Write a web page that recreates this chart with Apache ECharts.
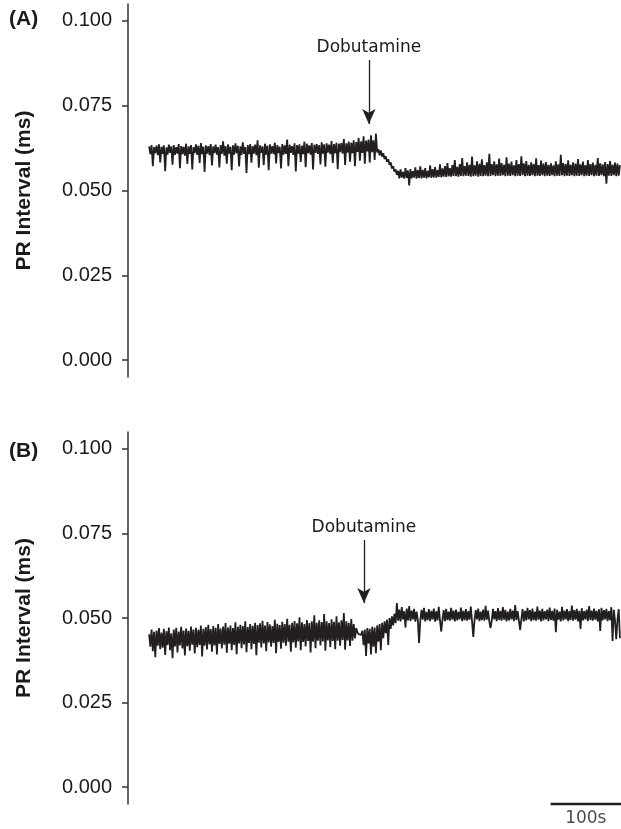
<!DOCTYPE html>
<html><head><meta charset="utf-8">
<script src="https://cdn.jsdelivr.net/npm/echarts@6/dist/echarts.min.js"></script>
<style>html,body{margin:0;padding:0;background:#fff}#c{width:621px;height:829px}</style>
</head><body><div id="c"></div>
<script>
// y-axis tick labels (PR interval, ms)
const yTicks = [0, 0.025, 0.05, 0.075, 0.1];
// sampling of the traces (seconds)
const sampleStart = 30;
const sampleStep = 1.75;
// Panel A trace (PR interval, ms)
const traceA = [
0.0630,0.0607,0.0634,0.0572,0.0628,0.0610,0.0632,0.0604,0.0636,0.0583,
0.0629,0.0608,0.0633,0.0557,0.0627,0.0606,0.0635,0.0611,0.0630,0.0576,
0.0634,0.0605,0.0628,0.0609,0.0637,0.0566,0.0631,0.0607,0.0629,0.0603,
0.0638,0.0578,0.0630,0.0608,0.0634,0.0562,0.0628,0.0610,0.0636,0.0605,
0.0632,0.0581,0.0640,0.0607,0.0629,0.0555,0.0633,0.0609,0.0631,0.0604,
0.0637,0.0574,0.0630,0.0610,0.0635,0.0606,0.0628,0.0568,0.0634,0.0608,
0.0645,0.0603,0.0631,0.0579,0.0636,0.0609,0.0629,0.0560,0.0633,0.0606,
0.0639,0.0610,0.0632,0.0571,0.0630,0.0605,0.0642,0.0608,0.0628,0.0552,
0.0634,0.0607,0.0637,0.0582,0.0631,0.0609,0.0635,0.0604,0.0648,0.0567,
0.0633,0.0611,0.0630,0.0575,0.0638,0.0606,0.0632,0.0560,0.0636,0.0609,
0.0631,0.0607,0.0641,0.0580,0.0634,0.0610,0.0629,0.0565,0.0637,0.0606,
0.0633,0.0608,0.0650,0.0572,0.0635,0.0611,0.0631,0.0605,0.0639,0.0556,
0.0634,0.0609,0.0636,0.0584,0.0632,0.0607,0.0644,0.0569,0.0638,0.0610,
0.0633,0.0606,0.0640,0.0562,0.0635,0.0611,0.0637,0.0608,0.0634,0.0577,
0.0642,0.0609,0.0636,0.0570,0.0639,0.0612,0.0635,0.0607,0.0646,0.0581,
0.0637,0.0610,0.0641,0.0563,0.0638,0.0613,0.0640,0.0609,0.0652,0.0575,
0.0639,0.0612,0.0644,0.0585,0.0641,0.0610,0.0648,0.0572,0.0643,0.0614,
0.0655,0.0588,0.0645,0.0611,0.0660,0.0579,0.0647,0.0615,0.0650,0.0583,
0.0663,0.0613,0.0648,0.0590,0.0668,0.0612,
0.0622,0.0604,0.0618,0.0600,0.0610,0.0593,0.0601,0.0585,0.0592,0.0576,0.0583,0.0565,0.0572,0.0556,0.0562,0.0546,
0.0558,0.0536,0.0562,0.0538,0.0555,0.0535,0.0566,0.0537,0.0559,0.0515,
0.0563,0.0536,0.0557,0.0538,0.0568,0.0535,0.0560,0.0537,0.0571,0.0536,
0.0561,0.0538,0.0566,0.0536,0.0558,0.0539,0.0574,0.0537,0.0563,0.0539,
0.0569,0.0538,0.0560,0.0540,0.0577,0.0539,0.0565,0.0541,0.0572,0.0540,
0.0581,0.0542,0.0566,0.0541,0.0575,0.0543,0.0590,0.0542,0.0570,0.0541,
0.0578,0.0543,0.0596,0.0542,0.0572,0.0544,0.0583,0.0543,0.0576,0.0541,
0.0600,0.0542,0.0574,0.0544,0.0586,0.0541,0.0579,0.0543,0.0592,0.0542,
0.0575,0.0544,0.0583,0.0542,0.0608,0.0543,0.0578,0.0545,0.0586,0.0542,
0.0577,0.0544,0.0594,0.0543,0.0581,0.0545,0.0576,0.0542,0.0598,0.0544,
0.0579,0.0543,0.0585,0.0545,0.0574,0.0542,0.0590,0.0544,0.0578,0.0543,
0.0601,0.0545,0.0580,0.0542,0.0587,0.0544,0.0576,0.0543,0.0583,0.0545,
0.0578,0.0542,0.0595,0.0544,0.0575,0.0543,0.0588,0.0545,0.0579,0.0542,
0.0584,0.0544,0.0576,0.0543,0.0580,0.0545,0.0574,0.0542,0.0586,0.0544,
0.0577,0.0543,0.0605,0.0545,0.0581,0.0542,0.0578,0.0544,0.0589,0.0543,
0.0576,0.0545,0.0583,0.0542,0.0579,0.0544,0.0593,0.0543,0.0577,0.0545,
0.0585,0.0542,0.0575,0.0544,0.0590,0.0543,0.0578,0.0545,0.0582,0.0542,
0.0576,0.0544,0.0596,0.0543,0.0580,0.0545,0.0577,0.0542,0.0584,0.0520,
0.0578,0.0544,0.0587,0.0543,0.0576,0.0545,0.0582,0.0542,0.0579,0.0544,0.0575
];
// Panel B trace (PR interval, ms)
const traceB = [
0.0452,0.0415,0.0466,0.0402,0.0459,0.0384,0.0463,0.0418,0.0470,0.0408,
0.0457,0.0412,0.0468,0.0391,0.0461,0.0420,0.0472,0.0405,0.0455,0.0381,
0.0466,0.0416,0.0471,0.0398,0.0460,0.0419,0.0474,0.0410,0.0463,0.0389,
0.0469,0.0417,0.0462,0.0403,0.0475,0.0421,0.0466,0.0395,0.0471,0.0414,
0.0465,0.0420,0.0478,0.0386,0.0468,0.0418,0.0473,0.0407,0.0480,0.0422,
0.0467,0.0400,0.0476,0.0419,0.0471,0.0392,0.0482,0.0423,0.0469,0.0410,
0.0475,0.0421,0.0485,0.0397,0.0472,0.0424,0.0478,0.0405,0.0470,0.0420,
0.0487,0.0393,0.0474,0.0425,0.0480,0.0411,0.0476,0.0422,0.0490,0.0399,
0.0473,0.0426,0.0482,0.0408,0.0477,0.0423,0.0486,0.0390,0.0479,0.0427,
0.0484,0.0413,0.0492,0.0425,0.0478,0.0402,0.0488,0.0428,0.0481,0.0415,
0.0476,0.0426,0.0495,0.0396,0.0483,0.0429,0.0479,0.0409,0.0489,0.0427,
0.0482,0.0418,0.0498,0.0430,0.0480,0.0400,0.0486,0.0428,0.0491,0.0412,
0.0484,0.0431,0.0502,0.0405,0.0487,0.0429,0.0482,0.0416,0.0494,0.0432,
0.0485,0.0398,0.0490,0.0430,0.0508,0.0411,0.0486,0.0433,0.0493,0.0419,
0.0488,0.0431,0.0512,0.0403,0.0490,0.0434,0.0485,0.0414,0.0496,0.0432,
0.0489,0.0408,0.0505,0.0433,0.0487,0.0418,0.0493,0.0435,0.0515,0.0406,
0.0490,0.0434,0.0486,0.0417,0.0497,0.0433,0.0482,0.0440,0.0470,
0.0458,0.0452,0.0456,0.0450,0.0462,0.0420,0.0466,0.0388,0.0470,0.0425,
0.0468,0.0392,0.0474,0.0415,0.0472,0.0396,0.0478,0.0430,0.0482,0.0405,
0.0486,0.0440,0.0490,0.0455,0.0495,0.0420,0.0500,0.0468,0.0505,0.0478,
0.0512,0.0485,0.0544,0.0492,
0.0525,0.0490,0.0532,0.0496,0.0520,0.0472,0.0528,0.0493,0.0535,0.0491,
0.0522,0.0496,0.0527,0.0489,0.0519,0.0494,0.0426,0.0492,0.0524,0.0495,
0.0530,0.0490,0.0518,0.0494,0.0526,0.0491,0.0521,0.0496,0.0528,0.0489,
0.0520,0.0493,0.0533,0.0492,0.0460,0.0495,0.0523,0.0491,0.0527,0.0494,
0.0519,0.0492,0.0530,0.0495,0.0522,0.0490,0.0525,0.0493,0.0518,0.0496,
0.0531,0.0491,0.0521,0.0494,0.0526,0.0492,0.0520,0.0495,0.0534,0.0490,
0.0444,0.0493,0.0523,0.0496,0.0528,0.0491,0.0519,0.0494,0.0525,0.0492,
0.0536,0.0495,0.0522,0.0490,0.0470,0.0493,0.0527,0.0496,0.0520,0.0491,
0.0529,0.0494,0.0521,0.0492,0.0532,0.0495,0.0524,0.0490,0.0519,0.0493,
0.0527,0.0496,0.0522,0.0491,0.0538,0.0494,0.0520,0.0492,0.0465,0.0495,
0.0526,0.0490,0.0521,0.0493,0.0530,0.0496,0.0523,0.0491,0.0528,0.0494,
0.0519,0.0492,0.0534,0.0495,0.0522,0.0490,0.0527,0.0493,0.0520,0.0496,
0.0525,0.0491,0.0531,0.0494,0.0521,0.0492,0.0528,0.0458,0.0524,0.0495,
0.0519,0.0490,0.0533,0.0493,0.0522,0.0496,0.0526,0.0491,0.0520,0.0494,
0.0537,0.0492,0.0523,0.0495,0.0527,0.0490,0.0521,0.0468,0.0529,0.0493,
0.0520,0.0496,0.0525,0.0491,0.0535,0.0494,0.0522,0.0492,0.0528,0.0495,
0.0521,0.0490,0.0526,0.0462,0.0530,0.0493,0.0523,0.0496,0.0527,0.0491,
0.0520,0.0494,0.0532,0.0432,0.0524,0.0492,0.0437,0.0495,0.0526,0.0440
];
// Dobutamine administration time (s) per panel
const dobutamineTime = [342, 335];
// Scale bar (s)
const scaleBar = [600, 700];
const scaleLabel = '100s';

const ink = '#231f20';
const toPairs = arr => arr.map((v, i) => [sampleStart + i * sampleStep, v]);

const chart = echarts.init(document.getElementById('c'), null, {renderer: 'canvas'});

function yAxisCfg(gridIndex) {
  return {
    gridIndex, type: 'value', min: -0.005, max: 0.105,
    name: 'PR Interval (ms)', nameLocation: 'middle', nameGap: 93, nameRotate: 90,
    nameTextStyle: {fontFamily: 'Liberation Sans', fontWeight: 'bold', fontSize: 21, color: '#1a1a1a'},
    axisLine: {show: true, lineStyle: {color: '#333', width: 1.5}},
    axisTick: {show: true, length: 6, customValues: yTicks, lineStyle: {color: '#333', width: 1.5}},
    axisLabel: {customValues: yTicks, margin: 16, fontFamily: 'Liberation Sans', fontSize: 20, color: '#1a1a1a',
      formatter: v => v.toFixed(3)},
    splitLine: {show: false}
  };
}
function xAxisCfg(gridIndex) {
  return {gridIndex, type: 'value', min: 0, max: 700, show: false};
}
function arrowMark(t, yFrom, yTo) {
  return {
    silent: true, animation: false,
    symbol: ['none', 'arrow'], symbolSize: [10, 15],
    lineStyle: {color: ink, width: 1.3, type: 'solid'},
    label: {show: true, position: 'start', distance: 4, formatter: 'Dobutamine',
      fontFamily: 'DejaVu Sans', fontSize: 17, color: '#1a1a1a'},
    data: [[{coord: [t, yFrom]}, {coord: [t, yTo]}]]
  };
}

chart.setOption({
  animation: false,
  backgroundColor: '#fff',
  grid: [
    {left: 128, right: 0, top: 4, height: 373},
    {left: 128, right: 0, top: 432, height: 372}
  ],
  xAxis: [xAxisCfg(0), xAxisCfg(1)],
  yAxis: [yAxisCfg(0), yAxisCfg(1)],
  graphic: [
    {type: 'text', left: 9, top: 9, style: {text: '(A)', font: 'bold 21px "Liberation Sans"', fill: '#1a1a1a'}},
    {type: 'text', left: 9, top: 441, style: {text: '(B)', font: 'bold 21px "Liberation Sans"', fill: '#1a1a1a'}}
  ],
  series: [
    {type: 'line', xAxisIndex: 0, yAxisIndex: 0, data: toPairs(traceA), showSymbol: false,
      lineStyle: {color: ink, width: 1.8}, markLine: arrowMark(dobutamineTime[0], 0.0885, 0.0696)},
    {type: 'line', xAxisIndex: 1, yAxisIndex: 1, data: toPairs(traceB), showSymbol: false,
      lineStyle: {color: ink, width: 1.8}, markLine: arrowMark(dobutamineTime[1], 0.0731, 0.0544)},
    {type: 'line', xAxisIndex: 1, yAxisIndex: 1, clip: false, showSymbol: false,
      data: [[scaleBar[0], -0.005], [scaleBar[1], -0.005]], lineStyle: {color: ink, width: 2.5}},
    {type: 'scatter', xAxisIndex: 1, yAxisIndex: 1, clip: false, symbolSize: 0,
      data: [[(scaleBar[0] + scaleBar[1]) / 2, -0.005]],
      label: {show: true, position: 'bottom', distance: 6, formatter: scaleLabel,
        fontFamily: 'DejaVu Sans', fontSize: 17, color: '#1a1a1a'}}
  ]
});
</script>
</body></html>
